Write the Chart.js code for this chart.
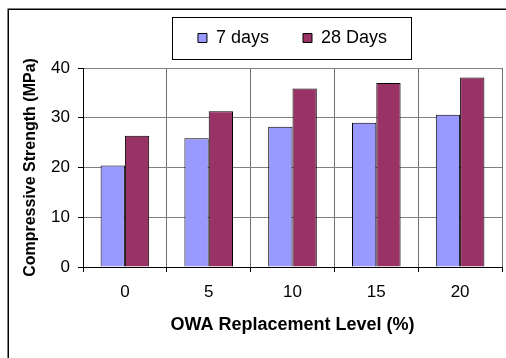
<!DOCTYPE html>
<html>
<head>
<meta charset="utf-8">
<script src="https://cdn.jsdelivr.net/npm/chart.js@4/dist/chart.umd.min.js"></script>
<style>
  html, body { margin: 0; padding: 0; background: #ffffff; }
  #wrap { width: 506px; height: 358px; position: relative; }
</style>
</head>
<body>
<div id="wrap"><canvas id="c" width="506" height="358"></canvas></div>
<script>
const categories = ['0', '5', '10', '15', '20'];
const days7 = [20.4, 25.9, 28.2, 29.0, 30.6];
const days28 = [26.4, 31.3, 35.9, 37.0, 38.1];
const seriesNames = ['7 days', '28 Days'];
const yTicks = [0, 10, 20, 30, 40];
const xTitle = 'OWA Replacement Level (%)';
const yTitle = 'Compressive Strength (MPa)';

const FONT = "'Liberation Sans', Arial, sans-serif";

// empty layout box that keeps a gap between the legend and the plot area
const spacerPlugin = {
  id: 'legendGap',
  beforeInit(chart) {
    Chart.layouts.addBox(chart, {
      position: 'top', weight: 0, fullSize: false, options: {},
      left: 0, top: 0, right: 0, bottom: 0, width: 0, height: 0,
      isHorizontal() { return true; },
      update(maxWidth) { this.width = maxWidth; this.height = 11; },
      draw() {}
    });
  }
};

const framePlugin = {
  id: 'frames',
  afterDraw(chart) {
    const ctx = chart.ctx;
    ctx.save();
    // outer chart border (top and left edges visible)
    ctx.strokeStyle = '#000';
    ctx.lineWidth = 1.5;
    ctx.beginPath();
    ctx.moveTo(8.25, chart.height);
    ctx.lineTo(8.25, 9.25);
    ctx.lineTo(chart.width, 9.25);
    ctx.stroke();
    // legend frame
    const lg = chart.legend;
    if (lg && lg.legendHitBoxes && lg.legendHitBoxes.length) {
      const hb = lg.legendHitBoxes;
      let l = Infinity, r = -Infinity, t = Infinity, b = -Infinity;
      hb.forEach(h => {
        l = Math.min(l, h.left); r = Math.max(r, h.left + h.width);
        t = Math.min(t, h.top); b = Math.max(b, h.top + h.height);
      });
      ctx.lineWidth = 1;
      ctx.strokeStyle = '#000';
      ctx.strokeRect(Math.round(l - 26) + 0.5, Math.round(t - 12) + 0.5,
                     Math.round(r - l + 50), Math.round(b - t + 24));
    }
    ctx.restore();
  }
};

new Chart(document.getElementById('c'), {
  type: 'bar',
  data: {
    labels: categories,
    datasets: [
      { label: seriesNames[0], data: days7, backgroundColor: '#9999FF', borderColor: '#000', borderWidth: 1 },
      { label: seriesNames[1], data: days28, backgroundColor: '#993366', borderColor: '#000', borderWidth: 1 }
    ]
  },
  options: {
    responsive: false,
    animation: false,
    devicePixelRatio: 1,
    layout: { padding: { left: 8, right: 4, top: -5, bottom: 0 } },
    datasets: { bar: { categoryPercentage: 0.58, barPercentage: 1.0 } },
    plugins: {
      legend: {
        display: true,
        position: 'top',
        fullSize: false,
        labels: {
          boxWidth: 9, boxHeight: 9, padding: 34,
          color: '#000',
          font: { family: FONT, size: 18 }
        }
      },
      tooltip: { enabled: false }
    },
    scales: {
      x: {
        afterFit(s) { s.height = 91; },
        grid: { display: true, offset: true, color: '#707070', tickColor: '#000', tickLength: 5, lineWidth: 1 },
        border: { display: true, color: '#000', width: 1 },
        ticks: { color: '#000', padding: 10, font: { family: FONT, size: 17 } },
        title: { display: true, text: xTitle, color: '#000', padding: { top: 0, bottom: 22 },
                 font: { family: FONT, size: 18, weight: 'bold' } }
      },
      y: {
        min: 0, max: 40,
        afterFit(s) { s.width = 75; },
        afterBuildTicks(s) { s.ticks = yTicks.map(v => ({ value: v })); },
        grid: { color: '#808080', tickColor: '#000', tickLength: 5, lineWidth: 1 },
        border: { display: true, color: '#000', width: 1 },
        ticks: { color: '#000', padding: 8, font: { family: FONT, size: 17 } },
        title: { display: true, text: yTitle, color: '#000', padding: { top: 13, bottom: 0 },
                 font: { family: FONT, size: 16, weight: 'bold' } }
      }
    }
  },
  plugins: [spacerPlugin, framePlugin]
});
</script>
</body>
</html>
